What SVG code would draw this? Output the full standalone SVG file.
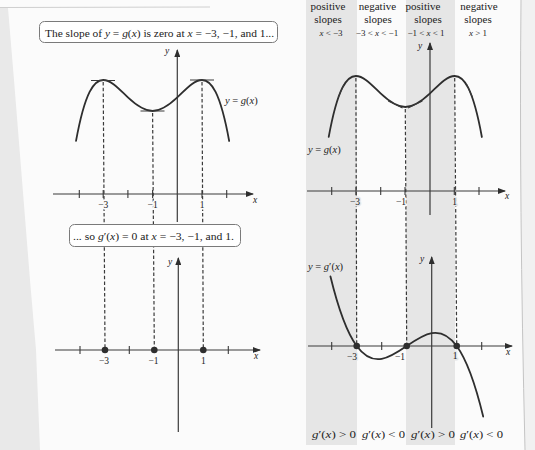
<svg xmlns="http://www.w3.org/2000/svg" width="535" height="450" viewBox="0 0 535 450">
<style>
text{font-family:"Liberation Serif","Times New Roman",serif;fill:#222}
.i{font-style:italic}
.t{font-size:9.5px;text-anchor:middle;paint-order:stroke;stroke:#fbfbfb;stroke-width:3px;stroke-linejoin:round}
.tg{stroke:#e6e6e6}
.lbl{font-size:10.5px}
.hd{font-size:11px;text-anchor:middle}
.rg{font-size:9px;text-anchor:middle}
.ax{stroke:#3a3a3a;stroke-width:1.2;fill:none}
.tk{stroke:#3a3a3a;stroke-width:1.1}
.cv{stroke:#2e2e2e;stroke-width:1.8;fill:none;stroke-linecap:round}
.dl{stroke:#3a3a3a;stroke-width:1.2;stroke-dasharray:3.5 2.2;fill:none}
.box{fill:#fff;stroke:#7a7a7a;stroke-width:1}
.dot{fill:#2e2e2e}
</style>
<defs>
<marker id="ar" markerWidth="8" markerHeight="6" refX="7" refY="3" orient="auto" markerUnits="userSpaceOnUse">
<path d="M0,0 L8,3 L0,6 Z" fill="#2e2e2e"/>
</marker>
<path id="gcurve" d="M76.03,140.95 C85.09,91.53 94.14,80 103.2,80 C111.43,80 119.67,89.69 127.9,97.44 C136.13,105.19 144.37,111 152.6,111 C160.83,111 169.07,105.19 177.3,97.44 C185.53,89.69 193.77,80 202,80 C211.06,80 220.11,91.56 229.17,140.98"/>
</defs>

<!-- background / page -->
<rect x="0" y="0" width="535" height="450" fill="#fbfbfb"/>
<path d="M0,8 L8,8 L14,80 L22,180 L30,280 L36,350 L40,450 L0,450 Z" fill="#e9e9e9"/>
<path d="M0,7.5 L210,7" stroke="#cfcfcf" stroke-width="1" fill="none"/>
<path d="M521,0 Q519,200 525,450 L535,450 L535,0 Z" fill="#f1f1f1"/>
<path d="M521,0 Q519,200 525,450" stroke="#c4c4c4" stroke-width="1" fill="none"/>
<rect x="306" y="0" width="51" height="445" fill="#e6e6e6"/>
<rect x="406" y="0" width="49" height="445" fill="#e6e6e6"/>

<!-- connectors: dashed guide lines -->
<g id="connectors">
<line class="dl" x1="103.2" y1="82" x2="105" y2="347"/>
<line class="dl" x1="152.6" y1="113" x2="154.3" y2="347"/>
<line class="dl" x1="202" y1="82" x2="203.3" y2="347"/>
<line class="dl" x1="355.9" y1="78" x2="356.7" y2="343"/>
<line class="dl" x1="405.3" y1="109" x2="406.7" y2="343"/>
<line class="dl" x1="454.7" y1="78" x2="456.7" y2="343"/>
</g>

<!-- left upper graph -->
<g id="left-upper">
<line class="ax" x1="53" y1="194" x2="253" y2="194" marker-end="url(#ar)"/>
<line class="ax" x1="177.3" y1="222" x2="177.3" y2="50" marker-end="url(#ar)"/>
<path class="tk" d="M79.3,190v8M103.2,190v8M127.9,190v8M152.6,190v8M202,190v8M226.7,190v8"/>
<use href="#gcurve" class="cv"/>
<path class="tk" d="M91,80.5H115M140.5,111H164.5M190,80H214" stroke-width="1.4"/>
<text class="t" x="103.2" y="208">−3</text>
<text class="t" x="152.6" y="208">−1</text>
<text class="t" x="202" y="208">1</text>
<text class="t i" x="255" y="203">x</text>
<text class="t i" x="167" y="54">y</text>
<text class="lbl" x="225" y="104"><tspan class="i">y</tspan> = <tspan class="i">g</tspan>(<tspan class="i">x</tspan>)</text>
</g>

<!-- label box 1 -->
<g id="note1">
<rect class="box" x="39.5" y="21.5" width="238" height="21" rx="5"/>
<text x="45" y="36.5" font-size="11" textLength="229" lengthAdjust="spacingAndGlyphs">The slope of <tspan class="i">y</tspan> = <tspan class="i">g</tspan>(<tspan class="i">x</tspan>) is zero at <tspan class="i">x</tspan> = −3, −1, and 1...</text>
</g>

<!-- label box 2 -->
<g id="note2">
<rect class="box" x="69.5" y="224.5" width="171" height="22" rx="5"/>
<text x="73" y="239.5" font-size="11" textLength="161" lengthAdjust="spacingAndGlyphs">... so <tspan class="i">g</tspan>′(<tspan class="i">x</tspan>) = 0 at <tspan class="i">x</tspan> = −3, −1, and 1.</text>
</g>

<!-- left lower graph -->
<g id="left-lower">
<line class="ax" x1="55" y1="350" x2="260" y2="350" marker-end="url(#ar)"/>
<line class="ax" x1="178.3" y1="432" x2="178.3" y2="258" marker-end="url(#ar)"/>
<path class="tk" d="M80,346v8M129.3,346v8M228.3,346v8"/>
<circle class="dot" cx="105" cy="350" r="3.3"/>
<circle class="dot" cx="154.3" cy="350" r="3.3"/>
<circle class="dot" cx="203.3" cy="350" r="3.3"/>
<text class="t" x="104" y="364">−3</text>
<text class="t" x="153.5" y="364">−1</text>
<text class="t" x="203.3" y="364">1</text>
<text class="t i" x="256" y="359">x</text>
<text class="t i" x="170" y="265">y</text>
</g>

<!-- right header -->
<g id="header">
<text class="hd" x="328" y="9.5">positive</text>
<text class="hd" x="377.5" y="9.5">negative</text>
<text class="hd" x="423" y="9.5">positive</text>
<text class="hd" x="479" y="9.5">negative</text>
<text class="hd" x="328" y="23">slopes</text>
<text class="hd" x="378" y="23">slopes</text>
<text class="hd" x="428" y="23">slopes</text>
<text class="hd" x="478" y="23">slopes</text>
<text class="rg" x="331" y="36"><tspan class="i">x</tspan> &lt; −3</text>
<text class="rg" x="377" y="36">−3 &lt; <tspan class="i">x</tspan> &lt; −1</text>
<text class="rg" x="426" y="36">−1 &lt; <tspan class="i">x</tspan> &lt; 1</text>
<text class="rg" x="478" y="36"><tspan class="i">x</tspan> &gt; 1</text>
</g>

<!-- right upper graph -->
<g id="right-upper">
<line class="ax" x1="307" y1="191" x2="505" y2="191" marker-end="url(#ar)"/>
<line class="ax" x1="430" y1="215" x2="430" y2="43" marker-end="url(#ar)"/>
<path class="tk" d="M331.7,187v8M356,187v8M380.7,187v8M405,187v8M454.3,187v8M479,187v8"/>
<use href="#gcurve" class="cv" transform="translate(252.7,-4)"/>
<path class="tk" stroke-width="1.4" d="M338.3,97.2L343.9,84.4M388.2,101.1L402.6,108M408,108L422.4,101.1M466.7,84.4L472.4,97.2"/>
<text class="t tg" x="355" y="205">−3</text>
<text class="t" x="401" y="205">−1</text>
<text class="t tg" x="454.5" y="205">1</text>
<text class="t i" x="507" y="199">x</text>
<text class="t i tg" x="420" y="49">y</text>
<text class="lbl" x="308" y="153"><tspan class="i">y</tspan> = <tspan class="i">g</tspan>(<tspan class="i">x</tspan>)</text>
</g>

<!-- right lower graph -->
<g id="right-lower">
<line class="ax" x1="308" y1="346" x2="512" y2="346" marker-end="url(#ar)"/>
<line class="ax" x1="431.7" y1="428" x2="431.7" y2="257" marker-end="url(#ar)"/>
<path class="tk" d="M331.7,342v8M381.7,342v8M481.7,342v8"/>
<path class="cv" d="M330.45,276.46 C339.2,312.44 347.95,333.96 356.7,346 C365.03,357.47 373.37,360.33 381.7,358.9 C390.03,357.47 398.37,351.73 406.7,346 C415.03,340.27 423.37,334.53 431.7,333.1 C440.03,331.67 448.37,334.53 456.7,346 C465.53,358.15 474.37,379.98 483.2,416.58"/>
<circle class="dot" cx="356.7" cy="346" r="3.3"/>
<circle class="dot" cx="406.7" cy="346" r="3.3"/>
<circle class="dot" cx="456.7" cy="346" r="3.3"/>
<text class="t tg" x="352" y="360">−3</text>
<text class="t" x="400" y="360">−1</text>
<text class="t tg" x="455" y="359">1</text>
<text class="t i" x="508" y="355">x</text>
<text class="t i tg" x="422" y="262">y</text>
<text class="lbl" x="308" y="270"><tspan class="i">y</tspan> = <tspan class="i">g</tspan>′(<tspan class="i">x</tspan>)</text>
</g>

<!-- bottom sign labels -->
<g id="signs">
<text class="lbl" x="312" y="438" textLength="44" lengthAdjust="spacingAndGlyphs"><tspan class="i">g</tspan>′(<tspan class="i">x</tspan>) &gt; 0</text>
<text class="lbl" x="362" y="438" textLength="43" lengthAdjust="spacingAndGlyphs"><tspan class="i">g</tspan>′(<tspan class="i">x</tspan>) &lt; 0</text>
<text class="lbl" x="411" y="438" textLength="44" lengthAdjust="spacingAndGlyphs"><tspan class="i">g</tspan>′(<tspan class="i">x</tspan>) &gt; 0</text>
<text class="lbl" x="460" y="438" textLength="43" lengthAdjust="spacingAndGlyphs"><tspan class="i">g</tspan>′(<tspan class="i">x</tspan>) &lt; 0</text>
</g>
</svg>
